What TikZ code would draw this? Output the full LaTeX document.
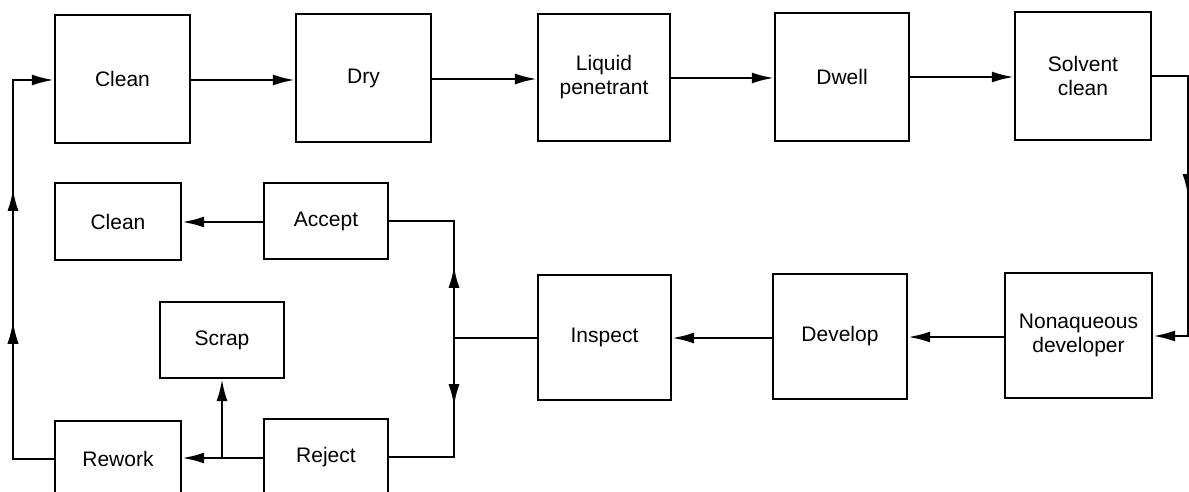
\documentclass[tikz,border=0pt]{standalone}
\usepackage{fontspec}
\setmainfont{Liberation Sans}
\usetikzlibrary{arrows.meta,decorations.markings}
\tikzset{
  box/.style={draw, line width=2.2pt, inner sep=0pt, align=center,
    font=\fontsize{21}{24}\selectfont},
  big/.style={box, minimum width=134pt, minimum height=127pt},
  small/.style={box, minimum width=125pt, minimum height=76pt},
  conn/.style={line width=2.4pt},
  tip/.style={-{Latex[length=22pt,width=11pt]}},
  midtip/.style={postaction={decorate}, decoration={markings,
    mark=at position #1 with {\arrow{Latex[length=22pt,width=11pt]}}}}
}
\begin{document}
\begin{tikzpicture}[x=1pt,y=-1pt]
\useasboundingbox (0,0) rectangle (1189,492);
\clip (0,0) rectangle (1189,492);
% top row
\node[big, minimum width=135pt, minimum height=128pt] (clean1) at (122.5,79) {Clean};
\node[big, minimum width=135pt, minimum height=128pt] (dry) at (363.5,78) {Dry};
\node[big, minimum width=132pt] (liquid) at (604,77.5) {Liquid\\penetrant};
\node[big, minimum height=128pt] (dwell) at (842,77) {Dwell};
\node[big, minimum width=136pt, minimum height=128pt] (solvent) at (1083,76) {Solvent\\clean};
% middle row
\node[big, minimum width=147pt, minimum height=125pt] (nonaq) at (1078.5,335.5) {Nonaqueous\\developer};
\node[big, minimum height=125pt] (develop) at (840,336.5) {Develop};
\node[big, minimum width=133pt, minimum height=125pt] (inspect) at (604.5,337.5) {Inspect};
% left small boxes
\node[small, minimum width=124pt] (accept) at (326,221) {Accept};
\node[small, minimum width=126pt, minimum height=77pt] (clean2) at (118,221.5) {Clean};
\node[small, minimum width=124pt] (scrap) at (222,340) {Scrap};
\node[small, minimum width=124pt] (reject) at (326,457) {Reject};
\node[small, minimum width=126pt] (rework) at (118,459) {Rework};
% coordinates
\coordinate (r1) at (1188,76);
\coordinate (r2) at (1188,336);
\coordinate (ju) at (454,221);
\coordinate (jm) at (454,338);
\coordinate (jd) at (454,457);
\coordinate (l1) at (13,459);
\coordinate (l2) at (13,80);
\coordinate (js) at (222,458);
% top row connectors
\draw[conn,tip] (clean1.east |- 0,80) -- (dry.west |- 0,80);
\draw[conn,tip] (dry.east |- 0,79) -- (liquid.west |- 0,79);
\draw[conn,tip] (liquid.east |- 0,78) -- (dwell.west |- 0,78);
\draw[conn,tip] (dwell.east |- 0,77) -- (solvent.west |- 0,77);
% right loop
\draw[conn,tip,midtip=156pt] (solvent.east |- r1) -- (r1) -- (r2) -- (nonaq.east |- r2);
% middle row
\draw[conn,tip] (nonaq.west |- 0,337) -- (develop.east |- 0,337);
\draw[conn,tip] (develop.west |- 0,338) -- (inspect.east |- 0,338);
% junction
\draw[conn,midtip=155pt] (inspect.west |- jm) -- (jm) -- (ju) -- (accept.east |- ju);
\draw[conn,midtip=151pt] (inspect.west |- jm) -- (jm) -- (jd) -- (reject.east |- jd);
% accept -> clean, reject -> rework, -> scrap
\draw[conn,tip] (accept.west |- 0,222) -- (clean2.east |- 0,222);
\draw[conn,tip] (reject.west |- js) -- (rework.east |- js);
\draw[conn,tip] (js) -- (js |- scrap.south);
% left loop
\draw[conn,tip,midtip=178pt,postaction={decorate,decoration={markings,
    mark=at position 311pt with {\arrow{Latex[length=22pt,width=11pt]}}}}]
  (rework.west |- l1) -- (l1) -- (l2) -- (clean1.west |- l2);
\end{tikzpicture}
\end{document}
